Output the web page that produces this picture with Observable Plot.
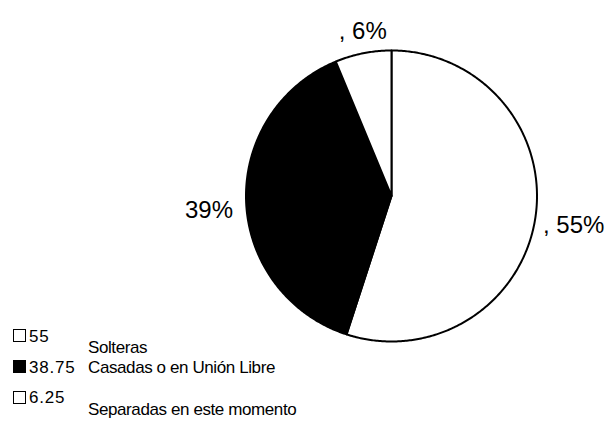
<!DOCTYPE html>
<html><head><meta charset="utf-8">
<script src="https://cdn.jsdelivr.net/npm/d3@7"></script>
<script src="https://cdn.jsdelivr.net/npm/@observablehq/plot@0.6"></script>
<style>
body{margin:0;background:#fff;font-family:"Liberation Sans",Arial,sans-serif;}
#wrap{position:relative;width:616px;height:421px;overflow:hidden;}
#legend{position:absolute;left:0;top:0;width:616px;height:421px;pointer-events:none;font-size:17px;color:#000;}
.sw{position:absolute;width:13px;height:13px;border:1.5px solid #000;box-sizing:border-box;}
.t{position:absolute;white-space:nowrap;line-height:1;}
</style></head>
<body><div id="wrap"><div id="chart"></div><div id="legend"></div></div>
<script>
const categories = ["Solteras", "Casadas o en Unión Libre", "Separadas en este momento"];
const values = [55, 38.75, 6.25];
const labels = [", 55%", "39%", ", 6%"];
const legendValues = ["55", "38.75", "6.25"];
const fills = ["#ffffff", "#000000", "#ffffff"];

// layout of the slice labels (radius factor and pixel nudges)
const labelLayout = [
  {r: 1.054, dx: 0, dy: 5, anchor: "start"},
  {r: 1.09, dx: 0, dy: 8, anchor: "end"},
  {r: 1.155, dx: 4, dy: 0, anchor: "middle"}
];

const pie = d3.pie().sort(null).value(d => d)(values);
const pts = [];
pie.forEach((s, i) => {
  const n = Math.max(2, Math.ceil((s.endAngle - s.startAngle) / 0.01));
  pts.push({cat: categories[i], x: 0, y: 0});
  for (let k = 0; k <= n; k++) {
    const a = s.startAngle + (s.endAngle - s.startAngle) * k / n;
    pts.push({cat: categories[i], x: Math.sin(a), y: Math.cos(a)});
  }
});
const labelData = pie.map((s, i) => {
  const a = (s.startAngle + s.endAngle) / 2;
  const L = labelLayout[i];
  return {text: labels[i], x: Math.sin(a) * L.r, y: Math.cos(a) * L.r, ...L};
});

const cx = 391, cy = 195.5, R = 145.5;
const textMarks = ["start", "end", "middle"].map(anchor => {
  const sub = labelData.filter(d => d.anchor === anchor);
  return Plot.text(sub, {
    x: "x", y: "y", text: "text", textAnchor: anchor, fontSize: 24,
    render(index, scales, values, dims, ctx, next) {
      const g = next(index, scales, values, dims, ctx);
      d3.select(g).selectAll("text").each(function(_, j) {
        const d = sub[index[j]];
        d3.select(this).attr("dx", d.dx).attr("dy", d.dy);
      });
      return g;
    }
  });
});
const chart = Plot.plot({
  width: 616, height: 421, margin: 0,
  x: {domain: [-1, 1], range: [cx - R, cx + R], axis: null},
  y: {domain: [-1, 1], range: [cy + R, cy - R], axis: null},
  color: {domain: categories, range: fills},
  style: {fontFamily: "Liberation Sans, Arial, sans-serif", background: "#fff"},
  marks: [
    Plot.line(pts, {x: "x", y: "y", z: "cat", fill: "cat", stroke: "#000", strokeWidth: 2, strokeLinejoin: "round", curve: "linear-closed"}),
    ...textMarks
  ]
});
document.getElementById("chart").appendChild(chart);

const lg = document.getElementById("legend");
// legend row layout (pixel tops)
const rows = [
  {swTop: 329, valTop: 327.6, nameTop: 338.6},
  {swTop: 360, valTop: 358.6, nameTop: 358.6},
  {swTop: 390.5, valTop: 388.6, nameTop: 400.6}
];
rows.forEach((r, i) => {
  const sw = document.createElement("div");
  sw.className = "sw"; sw.style.left = "13px"; sw.style.top = r.swTop + "px";
  sw.style.background = fills[i];
  lg.appendChild(sw);
  const v = document.createElement("div");
  v.className = "t"; v.style.left = "29px"; v.style.top = r.valTop + "px"; v.style.letterSpacing = "0.8px";
  v.textContent = legendValues[i]; lg.appendChild(v);
  const nm = document.createElement("div");
  nm.className = "t"; nm.style.left = "88px"; nm.style.top = r.nameTop + "px"; nm.style.letterSpacing = "-0.4px";
  nm.textContent = categories[i]; lg.appendChild(nm);
});
</script></body></html>
